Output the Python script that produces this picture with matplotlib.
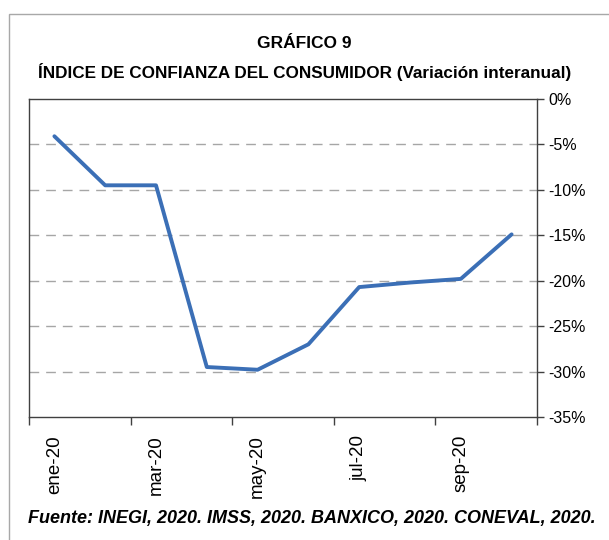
import matplotlib
matplotlib.use("Agg")
import matplotlib.pyplot as plt
from matplotlib.patches import Rectangle

# data (variacion interanual, %)
months = ["ene-20", "feb-20", "mar-20", "abr-20", "may-20",
          "jun-20", "jul-20", "ago-20", "sep-20", "oct-20"]
values = [-4.1, -9.5, -9.5, -29.5, -29.8, -27.0, -20.7, -20.2, -19.8, -14.9]
yticks = [0, -5, -10, -15, -20, -25, -30, -35]

plt.rcParams['font.family'] = ['Liberation Sans', 'DejaVu Sans']

fig = plt.figure(figsize=(6.09, 5.4), dpi=100)
fig.patches.append(Rectangle((9 / 609, -0.1), 1.2, 1 - 14 / 540 + 0.1, transform=fig.transFigure,
                             fill=False, edgecolor="#a8a8a8", linewidth=1.0))

ax = fig.add_axes([29 / 609, 123 / 540, 508 / 609, 318 / 540])
x = list(range(len(months)))
ax.plot(x, values, color="#3b6fb6", linewidth=2.8, solid_capstyle="round")

ax.set_xlim(-0.5, len(months) - 0.5)
ax.set_ylim(-35, 0)
for v in yticks[1:-1]:
    ax.axhline(v, color="#a6a6a6", linewidth=1.0, linestyle=(0, (7, 5)), zorder=0)

ax.yaxis.tick_right()
ax.set_yticks(yticks)
ax.set_yticklabels([f"{v}%" for v in yticks], fontsize=11.5)
ax.tick_params(axis="y", length=5, width=1, color="#404040", pad=3)

ax.set_xticks([i - 0.5 for i in range(0, len(months) + 1, 2)])
ax.set_xticklabels([])
ax.set_xticks(x[::2], minor=True)
ax.set_xticklabels(months[::2], minor=True, rotation=90, fontsize=13.5)
ax.tick_params(axis="x", which="major", length=6, width=1, color="#404040", direction="out")
ax.tick_params(axis="x", which="minor", length=0, pad=13)

for s in ax.spines.values():
    s.set_color("#404040")
    s.set_linewidth(1.0)

fig.text(0.5, 1 - 44 / 540, "GRÁFICO 9", ha="center", va="center",
         fontsize=12.5, fontweight="bold")
fig.text(0.5, 1 - 72 / 540, "ÍNDICE DE CONFIANZA DEL CONSUMIDOR (Variación interanual)",
         ha="center", va="center", fontsize=12.3, fontweight="bold")
fig.text(312 / 609, 1 - 519 / 540,
         "Fuente: INEGI, 2020. IMSS, 2020. BANXICO, 2020. CONEVAL, 2020.",
         ha="center", va="center", fontsize=13, fontweight="bold", style="italic")

fig.savefig("out.png", dpi=100)
